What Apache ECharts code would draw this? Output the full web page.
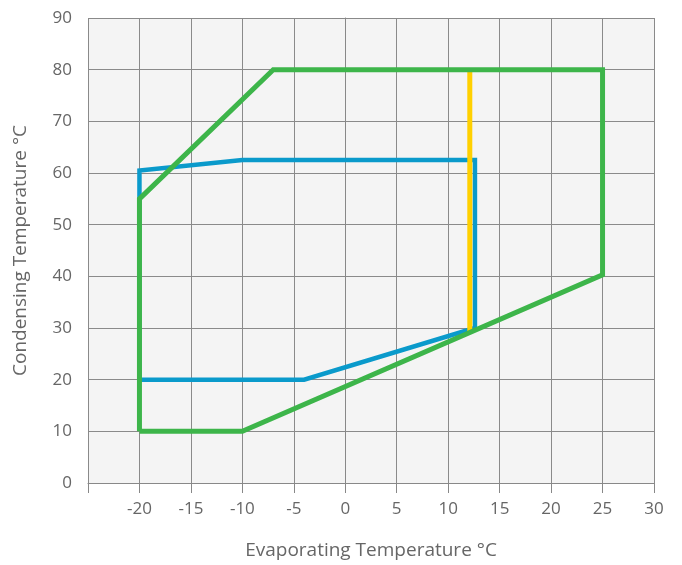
<!DOCTYPE html>
<html><head><meta charset="utf-8">
<script src="https://cdn.jsdelivr.net/npm/echarts@6/dist/echarts.min.js"></script>
<style>html,body{margin:0;padding:0;background:#fff}#c{width:682px;height:565px}</style>
</head><body><div id="c"></div>
<script>
const xTicks = [-25,-20,-15,-10,-5,0,5,10,15,20,25,30];
const yTicks = [0,10,20,30,40,50,60,70,80,90];
const blueX = [-20,-4,12.6,12.6,-10,-20,-20];
const blueY = [20,20,30,62.5,62.5,60.5,20];
const greenX = [-20,-10,25,25,-7,-20,-20];
const greenY = [10,10,40.3,80,80,55,10];
const yellowX = [12.1,12.1];
const yellowY = [80,29.4];

const pts = (xs, ys) => xs.map((x,i)=>[x, ys[i]]);
const font = '"Open Sans", "Noto Sans", sans-serif';
const chart = echarts.init(document.getElementById('c'));
chart.setOption({
  animation:false,
  grid:{left:88,right:28,top:18,bottom:82,show:true,backgroundColor:'#f4f4f4',borderWidth:0},
  xAxis:{type:'value',min:-25,max:30,interval:5,
    name:'Evaporating Temperature °C',nameLocation:'middle',nameGap:58,
    nameTextStyle:{fontFamily:font,fontSize:19,color:'#666'},
    axisLine:{show:true,lineStyle:{color:'#888',width:1}},
    axisTick:{show:true,length:10,lineStyle:{color:'#888'}},
    axisLabel:{fontFamily:font,fontSize:17,color:'#666',margin:18,
      formatter:v=>v===-25?'':String(v)},
    splitLine:{show:true,lineStyle:{color:'#8a8a8a',width:1}}},
  yAxis:{type:'value',min:0,max:90,interval:10,
    name:'Condensing Temperature °C',nameLocation:'middle',nameGap:58,nameRotate:90,
    nameTextStyle:{fontFamily:font,fontSize:19,color:'#666'},
    axisLine:{show:true,lineStyle:{color:'#888',width:1}},
    axisTick:{show:true,length:13,lineStyle:{color:'#888'}},
    axisLabel:{fontFamily:font,fontSize:17,color:'#666',margin:16},
    splitLine:{show:true,lineStyle:{color:'#8a8a8a',width:1}}},
  series:[
    {type:'line',data:pts(blueX,blueY),showSymbol:false,silent:true,
      lineStyle:{color:'#0a9acb',width:4.5,join:'miter'}},
    {type:'line',data:pts(yellowX,yellowY),showSymbol:false,silent:true,
      lineStyle:{color:'#ffd000',width:5}},
    {type:'line',data:pts(greenX,greenY),showSymbol:false,silent:true,
      lineStyle:{color:'#3db54a',width:5,join:'miter'}}
  ]
});
</script></body></html>
